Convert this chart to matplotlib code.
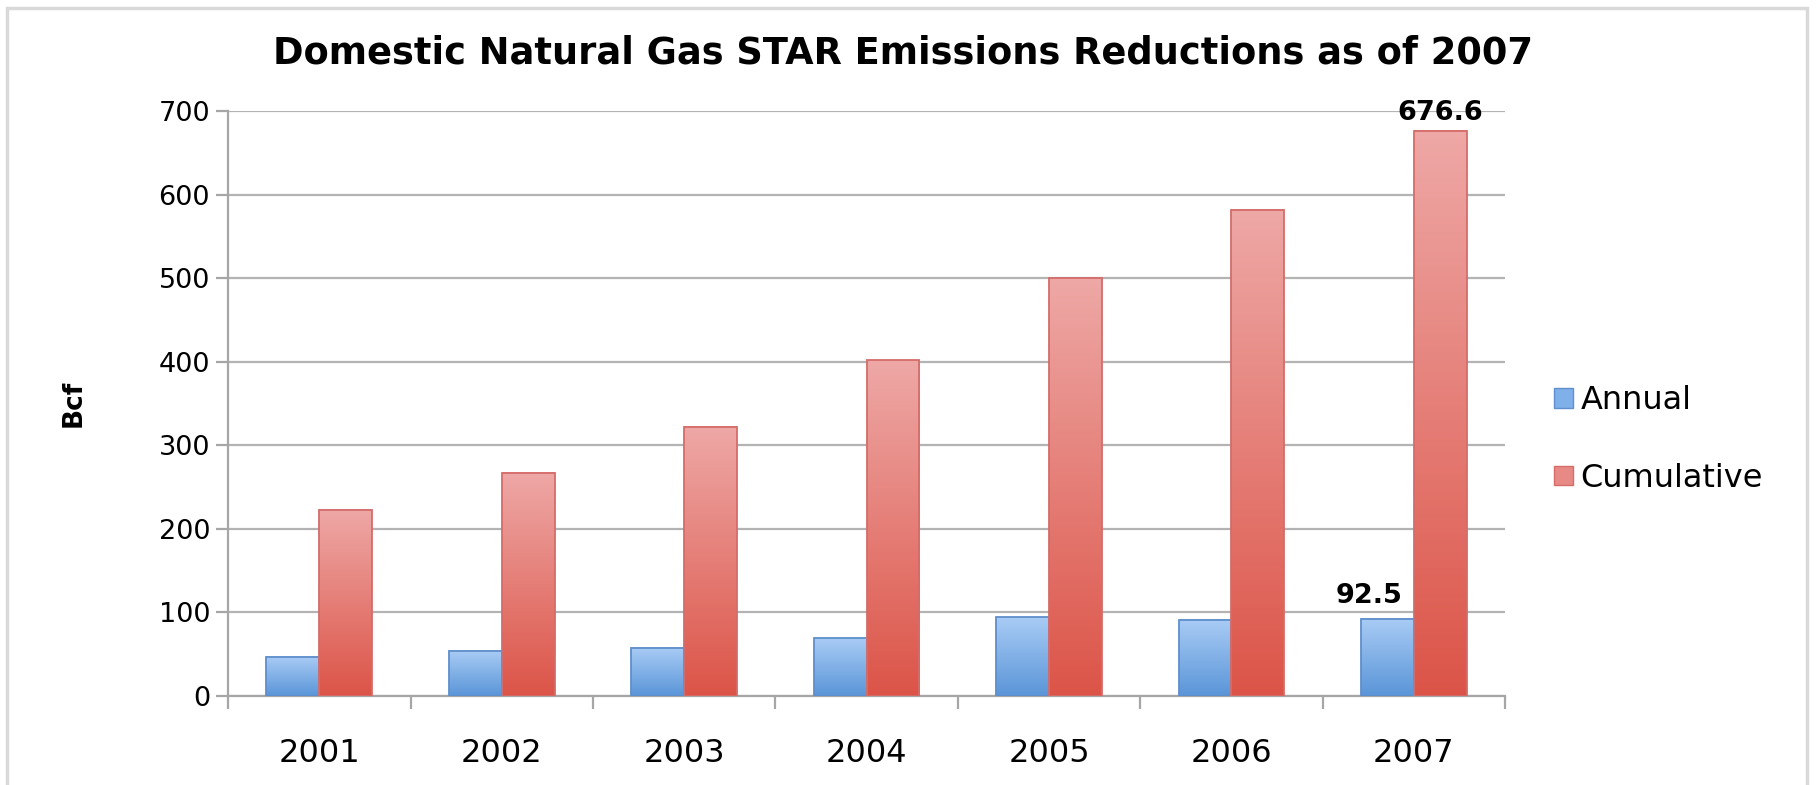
#!/usr/bin/env python3

import numpy as np
import matplotlib
matplotlib.use("Agg")
import matplotlib.pyplot as plt
from matplotlib.colors import LinearSegmentedColormap
from matplotlib.patches import Rectangle

years = ["2001", "2002", "2003", "2004", "2005", "2006", "2007"]
annual = [47, 54, 58, 69, 94, 91, 92.5]
cumulative = [223, 267, 322, 402, 500, 582, 676.6]
series_names = ["Annual", "Cumulative"]

blue_cmap = LinearSegmentedColormap.from_list("b", ["#5a95d8", "#a9ccf5"])
red_cmap = LinearSegmentedColormap.from_list("r", ["#dc5448", "#eea8a6"])

plt.rcParams["font.family"] = ["DejaVu Sans"]

fig = plt.figure(figsize=(18.16, 7.85), dpi=100)
ax = fig.add_axes([0.1256, 0.1134, 0.7032, 0.7452])

# light grey frame round the picture
fig.patches.append(Rectangle((0.004, -0.01), 0.991, 1.0, transform=fig.transFigure,
                             fill=False, edgecolor="#d9d9d9", linewidth=2.5))

x = np.arange(len(years))
width = 0.29
grad = np.linspace(0, 1, 256).reshape(-1, 1)


def gradient_bars(xs, vals, cmap, edge):
    bars = ax.bar(xs, vals, width, facecolor="none", edgecolor=edge, linewidth=1.3, zorder=4)
    for b in bars:
        x0, w, h = b.get_x(), b.get_width(), b.get_height()
        ax.imshow(grad, extent=[x0, x0 + w, 0, h], origin="lower", aspect="auto",
                  cmap=cmap, zorder=3)
    return bars


gradient_bars(x - width / 2, annual, blue_cmap, "#5f8fcc")
gradient_bars(x + width / 2, cumulative, red_cmap, "#d46c6a")

ax.set_xlim(-0.5, len(years) - 0.5)
ax.set_ylim(0, 700)
ax.set_yticks(range(0, 701, 100))
ax.yaxis.grid(True, color="#b3b3b3", linewidth=1.6, zorder=0)
ax.set_axisbelow(True)

ax.set_xticks(x)
ax.set_xticklabels(years, fontsize=23)
ax.set_xticks(np.arange(-0.5, len(years)), minor=True)
ax.tick_params(axis="x", which="major", length=0, pad=30)
ax.tick_params(axis="x", which="minor", length=9, width=1.6, color="#a6a6a6")
ax.tick_params(axis="y", length=9, width=1.6, color="#a6a6a6", labelsize=19.5, pad=4)

for s in ["top", "right"]:
    ax.spines[s].set_visible(False)
for s in ["left", "bottom"]:
    ax.spines[s].set_color("#a6a6a6")
    ax.spines[s].set_linewidth(1.6)

ax.set_ylabel("Bcf", fontsize=19, fontweight="bold", labelpad=52)

# value labels on the last year
ax.text(x[-1] - width / 2 - 0.1, annual[-1] + 12, f"{annual[-1]}", ha="center", va="bottom",
        fontsize=19.5, fontweight="bold", zorder=6)
ax.text(x[-1] + width / 2, cumulative[-1] + 6, f"{cumulative[-1]}", ha="center", va="bottom",
        fontsize=19.5, fontweight="bold", zorder=6)

fig.text(0.497, 0.932, "Domestic Natural Gas STAR Emissions Reductions as of 2007",
         ha="center", va="center", fontsize=26.5, fontweight="bold")

handles = [Rectangle((0, 0), 1, 1, facecolor="#7fb0ea", edgecolor="#5f8fcc"),
           Rectangle((0, 0), 1, 1, facecolor="#e78a86", edgecolor="#d46c6a")]
fig.legend(handles, series_names, loc="center left", bbox_to_anchor=(0.84, 0.44),
           frameon=False, fontsize=23, handlelength=0.58, handleheight=0.58,
           labelspacing=1.45, handletextpad=0.25)

fig.savefig("out.png", dpi=100)
plt.close(fig)
